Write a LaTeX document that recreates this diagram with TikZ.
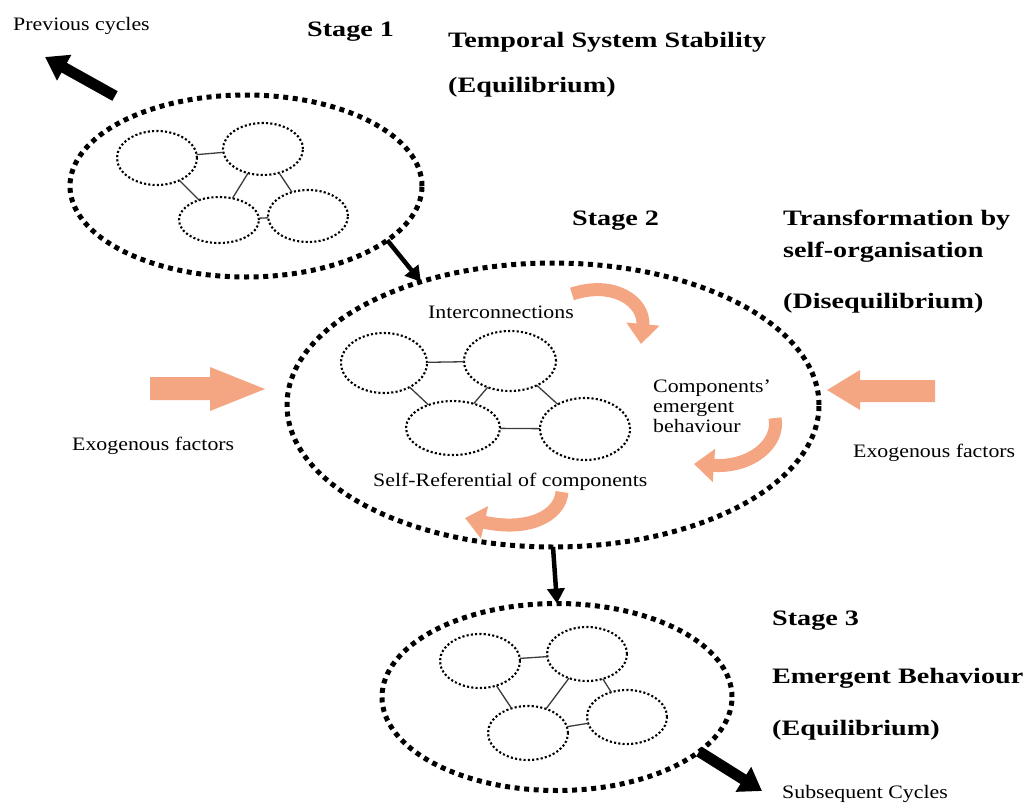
\documentclass[tikz,border=0pt]{standalone}
\usepackage{fontspec}
\setmainfont{Liberation Serif}[FakeStretch=1.15]
\newfontfamily\ttlfont{Liberation Serif}[FakeStretch=1.28]
\usetikzlibrary{shapes.geometric,arrows.meta}
\definecolor{salmon}{RGB}{244,166,131}
\definecolor{linkgray}{RGB}{60,60,60}
\tikzset{
  bigring/.style={ellipse, draw=black, line width=5pt, dash pattern=on 5pt off 4.6pt, inner sep=0pt, outer sep=0pt},
  smallring/.style={ellipse, draw=black, line width=2.1pt, dash pattern=on 2.1pt off 2.2pt, inner sep=0pt, outer sep=0pt, minimum width=80pt, minimum height=54pt},
  link/.style={draw=linkgray, line width=1.3pt},
  stagearrow/.style={draw=black, line width=4.5pt, -{Triangle[width=17pt,length=15pt]}},
  cyclearrow/.style={draw=black, line width=11pt, -{Triangle[width=28pt,length=22pt]}},
  curvearrow/.style={draw=salmon, line width=13pt, -{Triangle[width=32pt,length=20pt]}},
  reg/.style={font=\fontsize{19}{20}\selectfont, inner sep=0pt, anchor=base west},
  ttl/.style={font=\ttlfont\bfseries\fontsize{22}{24}\selectfont, inner sep=0pt, anchor=base west},
}
\begin{document}
\begin{tikzpicture}[x=1pt,y=-1pt]
\useasboundingbox (0,0) rectangle (1029,806);

% ---------- Stage 1 ----------
\node[bigring, minimum width=352pt, minimum height=182pt] (s1) at (246,186) {};
\node[smallring] (a1) at (157,158) {};
\node[smallring, minimum height=52pt] (b1) at (263,149) {};
\node[smallring, minimum height=46pt] (c1) at (219,220) {};
\node[smallring, minimum height=52pt] (d1) at (308,216) {};
\draw[link] (a1) -- (b1);
\draw[link] (a1) -- (c1);
\draw[link] (b1) -- (c1);
\draw[link] (b1) -- (d1);
\draw[link] (c1) -- (d1);

% ---------- Stage 2 ----------
\node[bigring, minimum width=532pt, minimum height=284pt] (s2) at (553,405) {};
\node[smallring, minimum width=86pt, minimum height=60pt] (a2) at (384,363) {};
\node[smallring, minimum width=92pt, minimum height=60pt] (b2) at (510,361) {};
\node[smallring, minimum width=94pt, minimum height=54pt] (c2) at (453,428) {};
\node[smallring, minimum width=90pt, minimum height=62pt] (d2) at (585,429) {};
\draw[link] (a2) -- (b2);
\draw[link] (a2) -- (c2);
\draw[link] (b2) -- (c2);
\draw[link] (b2) -- (d2);
\draw[link] (c2) -- (d2);

% ---------- Stage 3 ----------
\node[bigring, minimum width=350pt, minimum height=187pt] (s3) at (557,697) {};
\node[smallring] (a3) at (480,661) {};
\node[smallring] (b3) at (587,654) {};
\node[smallring] (c3) at (528,733) {};
\node[smallring] (d3) at (627,717) {};
\draw[link] (a3) -- (b3);
\draw[link] (a3) -- (c3);
\draw[link] (b3) -- (c3);
\draw[link] (b3) -- (d3);
\draw[link] (c3) -- (d3);

% ---------- stage connectors ----------
\draw[stagearrow] (s1.-21) -- (s2.137);
\draw[stagearrow] (s2.south) -- (s3.north);

\coordinate (pcTail) at (115,96);
\coordinate (pcTip) at (45,57);
\draw[cyclearrow] (pcTail) -- (pcTip);
\coordinate (scTip) at (762,791);
\draw[cyclearrow] (s3.-21) -- (scTip);

% ---------- exogenous arrows ----------
\fill[salmon] (150,377) -- (210,377) -- (210,367) -- (265,389) -- (210,411) -- (210,400) -- (150,400) -- cycle;
\fill[salmon] (935,380) -- (860,380) -- (860,370) -- (827,390) -- (860,410) -- (860,402) -- (935,402) -- cycle;

% ---------- curved arrows ----------
\coordinate (c1s) at (572,294);
\coordinate (c1e) at (641,344);
\draw[curvearrow] (c1s) .. controls (614,280) and (645,302) .. (c1e);
\coordinate (c2s) at (775,418);
\coordinate (c2e) at (694,464);
\draw[curvearrow] (c2s) .. controls (780,444) and (750,468) .. (c2e);
\coordinate (c3s) at (562,492);
\coordinate (c3e) at (465,518);
\draw[curvearrow] (c3s) .. controls (560,516) and (528,532) .. (c3e);

% ---------- texts ----------
\node[reg] (tprev) at (13,30) {Previous cycles};
\node[ttl] (tst1) at (307,36) {Stage 1};
\node[ttl] (tt1a) at (448,47) {Temporal System Stability};
\node[ttl] (tt1b) at (448,92) {(Equilibrium)};

\node[ttl] (tst2) at (572,225) {Stage 2};
\node[ttl] (tt2a) at (783,225) {Transformation by};
\node[ttl] (tt2b) at (783,257) {self-organisation};
\node[ttl] (tt2c) at (783,308) {(Disequilibrium)};

\node[reg] (tint) at (428,318) {Interconnections};
\node[reg, anchor=north west, align=left] (tcomp) at (653,380) {Components’\\emergent\\behaviour};
\node[reg] (tself) at (373,486) {Self-Referential of components};
\node[reg] (texl) at (72,450) {Exogenous factors};
\node[reg] (texr) at (853,457) {Exogenous factors};

\node[ttl] (tst3) at (772,625) {Stage 3};
\node[ttl] (tt3a) at (772,683) {Emergent Behaviour};
\node[ttl] (tt3b) at (772,735) {(Equilibrium)};
\node[reg] (tsub) at (782,798) {Subsequent Cycles};
\end{tikzpicture}
\end{document}
